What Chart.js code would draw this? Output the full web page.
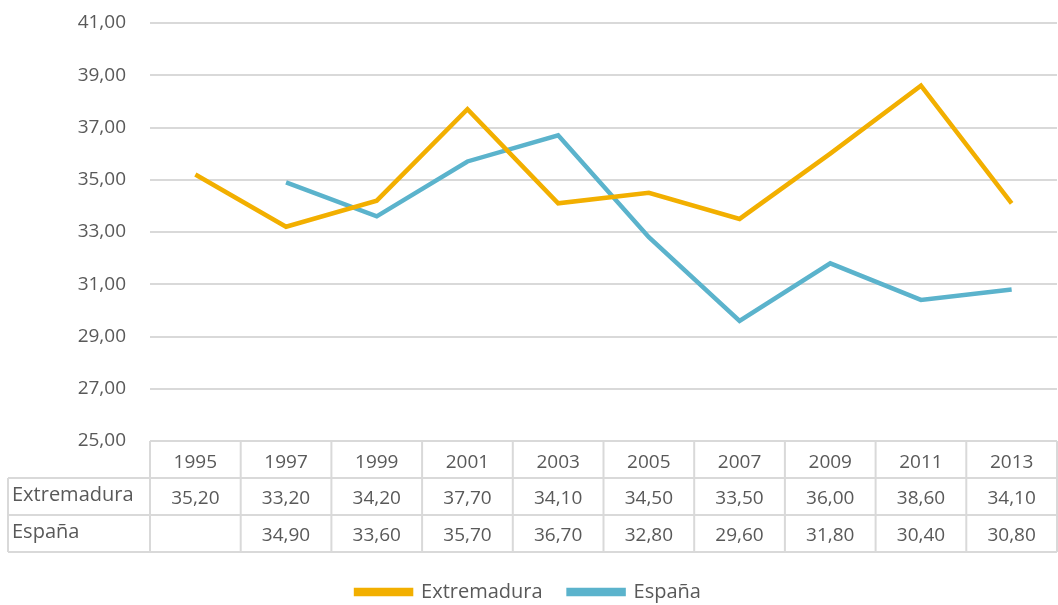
<!DOCTYPE html>
<html>
<head>
<meta charset="utf-8">
<script src="https://cdn.jsdelivr.net/npm/chart.js@4"></script>
<style>
  html, body { margin: 0; padding: 0; background: #fff; }
  #wrap { width: 1058px; height: 605px; }
</style>
</head>
<body>
<div id="wrap"><canvas id="myChart" width="1058" height="605"></canvas></div>
<script>
const years = ['1995', '1997', '1999', '2001', '2003', '2005', '2007', '2009', '2011', '2013'];
const extremadura = [35.2, 33.2, 34.2, 37.7, 34.1, 34.5, 33.5, 36.0, 38.6, 34.1];
const espana = [null, 34.9, 33.6, 35.7, 36.7, 32.8, 29.6, 31.8, 30.4, 30.8];
const seriesNames = ['Extremadura', 'España'];
const seriesColors = ['#F2AF00', '#5BB3CC'];

const txtColor = '#595959';
const lineColor = '#d9d9d9';
const fontFam = '"Open Sans", Lato, sans-serif';
const fontSize = 19;
const fmt = v => v == null ? '' : v.toFixed(2).replace('.', ',');

// data table under the plot, columns follow the x scale
const tablePlugin = {
  id: 'dataTable',
  afterLayout(chart) {
    // push the legend down a bit, closer to the bottom edge
    const dy = 556 - chart.legend.top;
    chart.legend.top += dy;
    chart.legend.bottom += dy;
  },
  afterDraw(chart) {
    const ctx = chart.ctx;
    const xs = chart.scales.x;
    const top = chart.chartArea.bottom;
    const rowH = 37;
    const leftX = 8;
    const n = years.length;
    const colW = (chart.chartArea.right - chart.chartArea.left) / n;
    const edges = [];
    for (let i = 0; i < n; i++) edges.push(xs.getPixelForValue(i) - colW / 2);
    edges.push(xs.getPixelForValue(n - 1) + colW / 2);

    ctx.save();
    ctx.strokeStyle = lineColor;
    ctx.lineWidth = 2;
    ctx.beginPath();
    ctx.moveTo(edges[0], top); ctx.lineTo(edges[n], top);
    ctx.moveTo(leftX, top + rowH); ctx.lineTo(edges[n], top + rowH);
    ctx.moveTo(leftX, top + rowH * 2); ctx.lineTo(edges[n], top + rowH * 2);
    ctx.moveTo(leftX, top + rowH * 3); ctx.lineTo(edges[n], top + rowH * 3);
    ctx.moveTo(leftX, top + rowH); ctx.lineTo(leftX, top + rowH * 3);
    edges.forEach(x => { ctx.moveTo(x, top); ctx.lineTo(x, top + rowH * 3); });
    ctx.stroke();

    ctx.fillStyle = txtColor;
    ctx.font = fontSize + 'px ' + fontFam;
    ctx.textBaseline = 'middle';
    ctx.textAlign = 'center';
    years.forEach((y, i) => ctx.fillText(y, xs.getPixelForValue(i), top + rowH / 2 + 3));
    [extremadura, espana].forEach((arr, r) => {
      arr.forEach((v, i) => ctx.fillText(fmt(v), xs.getPixelForValue(i), top + rowH * (r + 1.5) + 2));
    });
    ctx.textAlign = 'left';
    ctx.font = '20px ' + fontFam;
    seriesNames.forEach((s, r) => ctx.fillText(s, leftX + 4, top + rowH * (r + 1.5) - 1));
    ctx.restore();
  }
};

new Chart('myChart', {
  type: 'line',
  data: {
    labels: years,
    datasets: [{
      label: seriesNames[0],
      data: extremadura,
      borderColor: seriesColors[0],
      backgroundColor: seriesColors[0],
      borderWidth: 4.5,
      pointRadius: 0,
      tension: 0,
      fill: false
    }, {
      label: seriesNames[1],
      data: espana,
      borderColor: seriesColors[1],
      backgroundColor: seriesColors[1],
      borderWidth: 4.5,
      pointRadius: 0,
      tension: 0,
      fill: false
    }]
  },
  options: {
    responsive: false,
    animation: false,
    layout: { padding: { top: 23, right: 1, left: 0, bottom: 0 } },
    scales: {
      x: {
        offset: true,
        grid: { display: false },
        border: { display: false },
        ticks: { display: false },
        afterFit(s) { s.height = 108; s.paddingBottom = 0; }
      },
      y: {
        min: 25,
        max: 41,
        ticks: {
          stepSize: 2,
          padding: 24,
          color: txtColor,
          font: { family: fontFam, size: fontSize },
          callback: v => fmt(v)
        },
        grid: { color: lineColor, lineWidth: 2, drawTicks: false },
        border: { display: false },
        afterFit(s) { s.width = 150; s.paddingTop = 0; s.paddingBottom = 0; }
      }
    },
    plugins: {
      legend: {
        position: 'bottom',
        labels: {
          color: txtColor,
          font: { family: fontFam, size: 20 },
          boxWidth: 55,
          boxHeight: 4,
          padding: 26
        }
      },
      tooltip: { enabled: false }
    }
  },
  plugins: [tablePlugin]
});
</script>
</body>
</html>
